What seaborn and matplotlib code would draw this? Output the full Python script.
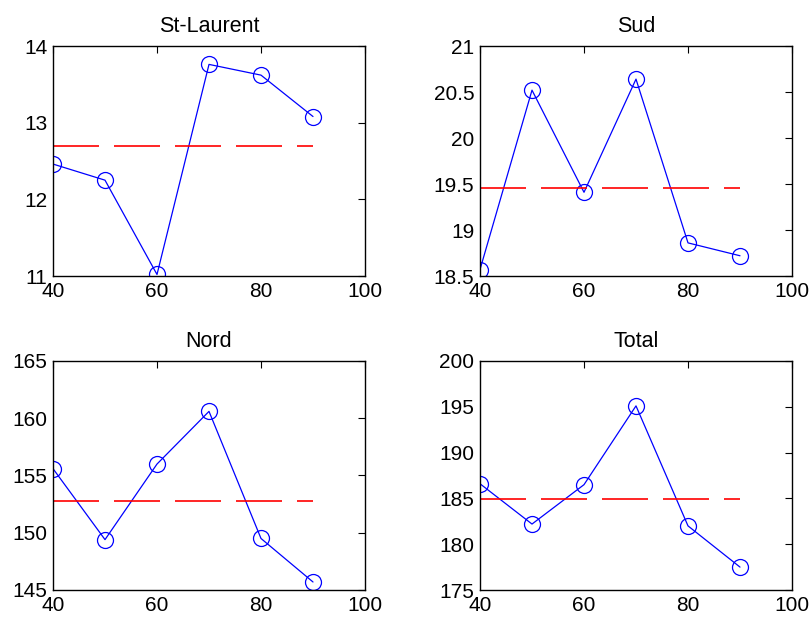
import numpy as np
import pandas as pd
import matplotlib
matplotlib.use("Agg")
import matplotlib.pyplot as plt
from matplotlib.ticker import FuncFormatter
import seaborn as sns

# Age groups (x axis)
ages = [40, 50, 60, 70, 80, 90]

# Values per region
st_laurent = [12.46, 12.25, 11.02, 13.76, 13.62, 13.08]
sud = [18.57, 20.52, 19.41, 20.64, 18.86, 18.72]
nord = [155.6, 149.4, 156.0, 160.6, 149.5, 145.7]
total = [186.6, 182.2, 186.5, 195.1, 182.0, 177.5]

titles = ["St-Laurent", "Sud", "Nord", "Total"]
series = [st_laurent, sud, nord, total]
y_limits = [(11, 14), (18.5, 21), (145, 165), (175, 200)]
y_ticks = [[11, 12, 13, 14],
           [18.5, 19, 19.5, 20, 20.5, 21],
           [145, 150, 155, 160, 165],
           [175, 180, 185, 190, 195, 200]]
x_ticks = [40, 60, 80, 100]

sns.set_style("white")
plt.rcParams["font.family"] = ["Liberation Sans", "DejaVu Sans"]
plt.rcParams["text.color"] = "black"
plt.rcParams["axes.titlecolor"] = "black"

W, H = 812, 620
fig = plt.figure(figsize=(W / 100, H / 100), dpi=100)

# axes boxes in pixels: left, top, right, bottom
boxes = [(53, 46, 365, 276), (480, 46, 792, 276),
         (53, 361, 365, 590), (480, 361, 792, 590)]

fmt = FuncFormatter(lambda v, p: f"{v:g}")

for box, title, vals, ylim, yt in zip(boxes, titles, series, y_limits, y_ticks):
    l, t, r, b = box
    ax = fig.add_axes([l / W, 1 - b / H, (r - l) / W, (b - t) / H])
    df = pd.DataFrame({"age": ages, "value": vals})
    sns.lineplot(data=df, x="age", y="value", ax=ax, color="#0000ff",
                 linewidth=0.9, marker="o", markersize=11.5,
                 markerfacecolor="none", markeredgecolor="#0000ff",
                 markeredgewidth=0.9)
    mean_df = pd.DataFrame({"age": [ages[0], ages[-1]],
                            "value": [np.mean(vals)] * 2})
    sns.lineplot(data=mean_df, x="age", y="value", ax=ax, color="#ff0000",
                 linewidth=1.2, dashes=False)
    ax.lines[-1].set_dashes([27.6, 9.0])
    ax.set_xlim(40, 100)
    ax.set_ylim(*ylim)
    ax.set_xticks(x_ticks)
    ax.set_yticks(yt)
    ax.yaxis.set_major_formatter(fmt)
    ax.set_xlabel("")
    ax.set_ylabel("")
    ax.set_title(title, fontsize=15.5, pad=10, color="black")
    ax.tick_params(direction="in", length=5, width=0.8, labelsize=15,
                   top=True, right=True, colors="black", pad=4)
    for sp in ax.spines.values():
        sp.set_visible(True)
        sp.set_color("black")
        sp.set_linewidth(1.0)
    ax.set_facecolor("white")

fig.savefig("out.png", dpi=100, facecolor="white")
